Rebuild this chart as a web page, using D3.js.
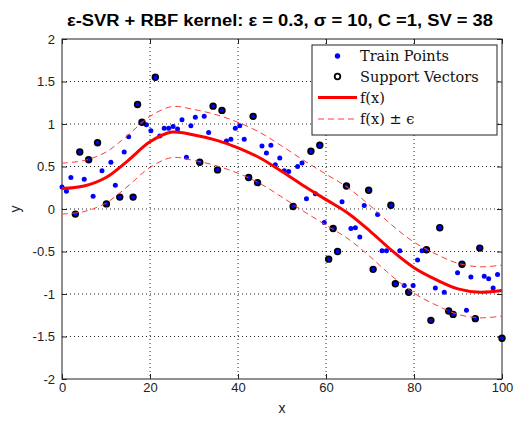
<!DOCTYPE html>
<html>
<head>
<meta charset="utf-8">
<script src="https://cdn.jsdelivr.net/npm/d3@7"></script>
<style>
  body { margin: 0; background: #fff; }
  svg { display: block; }
</style>
</head>
<body>
<div id="chart"></div>
<script>
// training inputs (100 evenly spaced samples on [0,100])
const trainX = [0, 1.01, 2.02, 3.03, 4.04, 5.05, 6.06, 7.07, 8.08, 9.09,
  10.1, 11.11, 12.12, 13.13, 14.14, 15.15, 16.16, 17.17, 18.18, 19.19,
  20.2, 21.21, 22.22, 23.23, 24.24, 25.25, 26.26, 27.27, 28.28, 29.29,
  30.3, 31.31, 32.32, 33.33, 34.34, 35.35, 36.36, 37.37, 38.38, 39.39,
  40.4, 41.41, 42.42, 43.43, 44.44, 45.45, 46.46, 47.47, 48.48, 49.49,
  50.51, 51.52, 52.53, 53.54, 54.55, 55.56, 56.57, 57.58, 58.59, 59.6,
  60.61, 61.62, 62.63, 63.64, 64.65, 65.66, 66.67, 67.68, 68.69, 69.7,
  70.71, 71.72, 72.73, 73.74, 74.75, 75.76, 76.77, 77.78, 78.79, 79.8,
  80.81, 81.82, 82.83, 83.84, 84.85, 85.86, 86.87, 87.88, 88.89, 89.9,
  90.91, 91.92, 92.93, 93.94, 94.95, 95.96, 96.97, 97.98, 98.99, 100];

const trainY = [0.26, 0.21, 0.37, -0.06, 0.67, 0.35, 0.58, 0.15, 0.78, 0.45,
  0.06, 0.55, 0.28, 0.14, 0.67, 0.85, 0.14, 1.23, 1.02, 0.99,
  0.92, 1.55, 0.86, 0.95, 0.95, 0.97, 0.94, 1.05, 0.61, 0.98,
  1.08, 0.55, 1.09, 0.90, 1.21, 0.46, 1.16, 0.80, 0.82, 0.95,
  0.98, 0.82, 0.37, 1.09, 0.31, 0.74, 0.66, 0.75, 0.52, 0.60,
  0.45, 0.44, 0.03, 0.50, 0.54, 0.12, 0.68, 0.18, 0.75, -0.16,
  -0.59, -0.23, -0.50, 0.085, 0.27, -0.23, -0.22, -0.33, 0.04, 0.22,
  -0.71, -0.065, -0.49, -0.49, 0.045, -0.88, -0.49, -0.90, -0.98, -0.90,
  -0.60, -0.49, -0.48, -1.31, -0.93, -0.22, -0.98, -1.20, -1.24, -0.75,
  -0.65, -1.19, -0.80, -1.29, -0.46, -0.79, -0.82, -0.93, -0.77, -1.52];

// indices of the 38 support vectors
const svIdx = [3, 4, 6, 8, 10, 13, 16, 17, 18, 21, 31, 34, 35, 36,
  42, 43, 44, 52, 56, 58, 60, 61, 62, 64, 69, 70, 74, 75, 78,
  82, 83, 85, 87, 88, 90, 93, 94, 99];

// regression function f(x)
const fX = [0, 5, 10, 15, 20, 25, 30, 35, 40, 45, 50, 55, 60, 65, 70, 75, 80, 85, 90, 95, 100];
const fY = [0.24, 0.27, 0.37, 0.57, 0.79, 0.905, 0.87, 0.81, 0.72, 0.60, 0.44, 0.27, 0.11,
  -0.05, -0.26, -0.49, -0.69, -0.83, -0.94, -0.98, -0.96];
const epsilon = 0.3;

const xTicks = [0, 20, 40, 60, 80, 100];
const yTicks = [-2, -1.5, -1, -0.5, 0, 0.5, 1, 1.5, 2];

const legendItems = ["Train Points", "Support Vectors", "f(x)", "f(x) \u00b1 \u03f5"];

const W = 519, H = 431;
const margin = { top: 39, right: 17, bottom: 52, left: 62 };
const width = W - margin.left - margin.right;
const height = H - margin.top - margin.bottom;

const svg = d3.select("#chart").append("svg")
    .attr("width", W)
    .attr("height", H);

const g = svg.append("g")
    .attr("transform", `translate(${margin.left},${margin.top})`);

const x = d3.scaleLinear().domain([0, 100]).range([0, width]);
const y = d3.scaleLinear().domain([-2, 2]).range([height, 0]);

// dotted grid
g.selectAll("line.vgrid")
  .data(xTicks.slice(1, -1))
  .enter().append("line")
    .attr("class", "vgrid")
    .attr("x1", d => x(d)).attr("x2", d => x(d))
    .attr("y1", 0).attr("y2", height)
    .attr("stroke", "#222")
    .attr("stroke-dasharray", "1,3");

g.selectAll("line.hgrid")
  .data(yTicks.slice(1, -1))
  .enter().append("line")
    .attr("class", "hgrid")
    .attr("x1", 0).attr("x2", width)
    .attr("y1", d => y(d)).attr("y2", d => y(d))
    .attr("stroke", "#222")
    .attr("stroke-dasharray", "1,3");

// axes with inward ticks on all sides
const fontAxis = "'Liberation Sans', Arial, sans-serif";
function styleAxis(sel) {
  sel.select(".domain").remove();
  sel.selectAll("text").style("font-family", fontAxis).style("font-size", "13px").attr("fill", "#222");
  sel.selectAll("line").attr("stroke", "#222");
}
g.append("g").attr("transform", `translate(0,${height})`)
  .call(d3.axisBottom(x).tickValues(xTicks).tickSize(-5).tickPadding(4).tickFormat(d3.format("d")))
  .call(styleAxis);
g.append("g")
  .call(d3.axisLeft(y).tickValues(yTicks).tickSize(-5).tickPadding(7).tickFormat(d => String(d)))
  .call(styleAxis);
g.append("g")
  .call(d3.axisTop(x).tickValues(xTicks).tickSize(-5).tickFormat(""))
  .call(styleAxis);
g.append("g").attr("transform", `translate(${width},0)`)
  .call(d3.axisRight(y).tickValues(yTicks).tickSize(-5).tickFormat(""))
  .call(styleAxis);

g.append("rect")
  .attr("width", width).attr("height", height)
  .attr("fill", "none").attr("stroke", "#222").attr("stroke-width", 1);

// points
const pts = trainX.map((d, i) => ({ x: d, y: trainY[i] }));

g.selectAll("circle.train")
  .data(pts)
  .enter().append("circle")
    .attr("class", "train")
    .attr("cx", d => x(d.x)).attr("cy", d => y(d.y))
    .attr("r", 2.5)
    .attr("fill", "#0000ff");

g.selectAll("circle.sv")
  .data(svIdx.map(i => pts[i]))
  .enter().append("circle")
    .attr("class", "sv")
    .attr("cx", d => x(d.x)).attr("cy", d => y(d.y))
    .attr("r", 2.8)
    .attr("fill", "none")
    .attr("stroke", "#000")
    .attr("stroke-width", 1.8);

// f(x) and the epsilon tube
const fData = fX.map((d, i) => ({ x: d, y: fY[i] }));
const line = d3.line().x(d => x(d.x)).y(d => y(d.y)).curve(d3.curveCatmullRom);

[epsilon, -epsilon].forEach(e => {
  g.append("path")
    .datum(fData.map(d => ({ x: d.x, y: d.y + e })))
    .attr("d", line)
    .attr("fill", "none")
    .attr("stroke", "#ff3a3a")
    .attr("stroke-width", 1)
    .attr("stroke-dasharray", "6,4");
});

g.append("path")
  .datum(fData)
  .attr("d", line)
  .attr("fill", "none")
  .attr("stroke", "#ff0000")
  .attr("stroke-width", 3);

// legend
const lg = svg.append("g").attr("transform", "translate(312,45)");
lg.append("rect")
  .attr("width", 185).attr("height", 90)
  .attr("fill", "#fff").attr("stroke", "#222").attr("stroke-width", 1);

const rowY = [11, 31.5, 52.5, 74];
const fontLegend = "'DejaVu Serif', 'Liberation Serif', serif";
legendItems.forEach((t, i) => {
  lg.append("text")
    .attr("x", 48).attr("y", rowY[i] + 5)
    .style("font-family", fontLegend)
    .style("font-size", "14.5px")
    .attr("fill", "#111")
    .text(t);
});
lg.append("circle").attr("cx", 25.5).attr("cy", rowY[0]).attr("r", 2.7).attr("fill", "#0000ff");
lg.append("circle").attr("cx", 25.5).attr("cy", rowY[1]).attr("r", 2.8)
  .attr("fill", "#fff").attr("stroke", "#000").attr("stroke-width", 1.8);
lg.append("line").attr("x1", 6).attr("x2", 45).attr("y1", rowY[2]).attr("y2", rowY[2])
  .attr("stroke", "#ff0000").attr("stroke-width", 3);
lg.append("line").attr("x1", 6).attr("x2", 45).attr("y1", rowY[3]).attr("y2", rowY[3])
  .attr("stroke", "#ff3a3a").attr("stroke-width", 1).attr("stroke-dasharray", "6,4");

// title and axis labels
svg.append("text")
  .attr("x", 280).attr("y", 26)
  .attr("text-anchor", "middle")
  .attr("textLength", 426)
  .attr("lengthAdjust", "spacingAndGlyphs")
  .style("font-family", fontAxis)
  .style("font-size", "16px")
  .style("font-weight", "bold")
  .attr("fill", "#000")
  .text("\u03b5-SVR + RBF kernel: \u03b5 = 0.3, \u03c3 = 10, C =1, SV = 38");

svg.append("text")
  .attr("x", margin.left + width / 2).attr("y", 413)
  .attr("text-anchor", "middle")
  .style("font-family", fontAxis)
  .style("font-size", "14px")
  .attr("fill", "#222")
  .text("x");

svg.append("text")
  .attr("transform", `translate(20,${margin.top + height / 2}) rotate(-90)`)
  .attr("text-anchor", "middle")
  .style("font-family", fontAxis)
  .style("font-size", "14px")
  .attr("fill", "#222")
  .text("y");
</script>
</body>
</html>
